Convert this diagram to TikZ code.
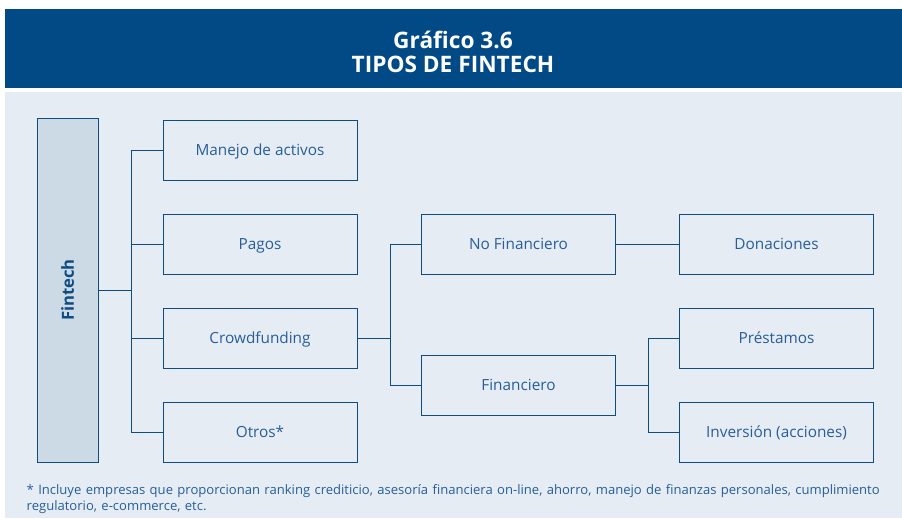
\documentclass[tikz,border=0pt]{standalone}
\usepackage{fontspec}
\setmainfont{Open Sans}
\usepackage{xcolor}
\usepackage{tikz}
\usetikzlibrary{positioning}

\definecolor{bandblue}{HTML}{024A86}
\definecolor{panelblue}{HTML}{E5ECF4}
\definecolor{linkblue}{HTML}{0F4C81}
\definecolor{textblue}{HTML}{285E98}
\definecolor{rootfill}{HTML}{CCDAE6}

\begin{document}
\begin{tikzpicture}[x=0.75pt, y=-0.75pt,
  every node/.style={font=\fontsize{11.5}{13}\selectfont, text=textblue},
  band/.style={fill=bandblue, draw=none},
  panel/.style={fill=panelblue, draw=none},
  root/.style={rectangle, draw=linkblue, semithick, fill=rootfill,
               minimum width=45.75pt, minimum height=258pt, inner sep=0pt},
  cat/.style={rectangle, draw=linkblue, semithick, fill=panelblue,
              minimum width=145.5pt, minimum height=45pt, inner sep=2pt,
              text height=1.9ex, text depth=0.3ex},
  link/.style={draw=linkblue, semithick}]

\useasboundingbox (0,0) rectangle (902,518);
\fill[white] (0,0) rectangle (902,518);
\path[band] (5,9) rectangle (902,88);
\path[panel] (5,92) rectangle (902,518);

\node[text=white, font=\fontsize{17}{17.5}\selectfont\bfseries, align=center]
  (titulo) at (453,52) {Gráfico 3.6\\TIPOS DE FINTECH};

% raiz y primer nivel
\node[root] (fintech) at (67.5,290) {};
\node[rotate=90, font=\fontsize{12.5}{14}\selectfont\bfseries, text=linkblue]
  at (fintech.center) {Fintech};
\node[cat] (manejo) at (260,150) {Manejo de activos};
\node[cat] (pagos) at (260,244) {Pagos};
\node[cat] (crowd) at (260,338) {Crowdfunding};
\node[cat] (otros) at (260,432) {Otros*};

% crowdfunding
\node[cat] (nofin) at (518.5,244) {No Financiero};
\node[cat] (fin) at (518.5,385) {Financiero};
\node[cat] (donac) at (776.5,244) {Donaciones};
\node[cat] (prest) at (776.5,338) {Préstamos};
\node[cat] (inver) at (776.5,432) {Inversión (acciones)};

\coordinate (bus1) at (131,290);
\coordinate (bus2) at (390,338);
\coordinate (bus3) at (648,385);

\draw[link] (fintech.east) -- (bus1);
\foreach \n in {manejo,pagos,crowd,otros}
  \draw[link] (bus1) |- (\n.west);
\draw[link] (crowd.east) -- (bus2);
\foreach \n in {nofin,fin}
  \draw[link] (bus2) |- (\n.west);
\draw[link] (nofin.east) -- (donac.west);
\draw[link] (fin.east) -- (bus3);
\foreach \n in {prest,inver}
  \draw[link] (bus3) |- (\n.west);

\node[anchor=north west, align=left, text width=660pt,
      font=\fontsize{9.8}{12}\selectfont] (nota) at (22,480)
  {* Incluye empresas que proporcionan ranking crediticio, asesoría financiera on-line, ahorro, manejo de finanzas personales, cumplimiento\\regulatorio, e-commerce, etc.};
\end{tikzpicture}
\end{document}
